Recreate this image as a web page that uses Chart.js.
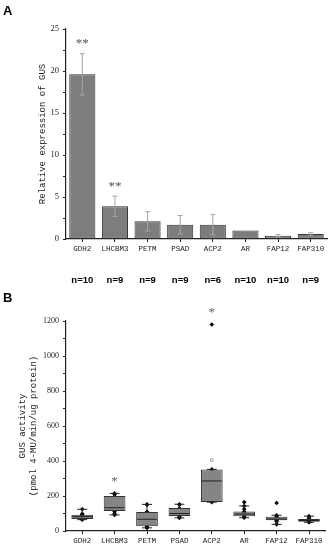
<!DOCTYPE html>
<html>
<head>
<meta charset="utf-8">
<script src="https://cdn.jsdelivr.net/npm/chart.js@4.4.0/dist/chart.umd.min.js"></script>
<style>
  body { margin: 0; background: #fff; }
  #wrap { position: relative; width: 330px; height: 550px; }
  .panel { position: absolute; left: 0; width: 330px; }
  .tag { position: absolute; left: 3px; font: bold 13px "Liberation Sans", Arial, sans-serif; color: #000; }
</style>
</head>
<body>
<div id="wrap">
  <div class="panel" style="top:0;height:290px"><canvas id="graficoA" width="330" height="290"></canvas></div>
  <div class="panel" style="top:290px;height:260px"><canvas id="graficoB" width="330" height="260"></canvas></div>
  <div class="tag" style="top:3px">A</div>
  <div class="tag" style="top:290px">B</div>
</div>
<script>
// Datos
const genes = ['GDH2', 'LHCBM3', 'PETM', 'PSAD', 'ACP2', 'AR', 'FAP12', 'FAP310'];
const nMuestras = [10, 9, 9, 9, 6, 10, 10, 9];

// Panel A: expresión relativa
const expresion = [19.6, 3.9, 2.1, 1.7, 1.7, 1.0, 0.4, 0.6];
const errores = [2.45, 1.2, 1.15, 1.1, 1.2, 0, 0.12, 0.15];
const signifA = ['**', '**', '', '', '', '', '', ''];

// Panel B: actividad GUS (cajas)
const q1 = [69, 114, 27, 86, 166, 84, 61, 53];
const q3 = [93, 200, 109, 131, 352, 112, 82, 69];
const mediana = [82, 133, 67, 100, 286, 97, 68, 60];
const bigoteBajo = [65, 92, 18, 75, 165, 76, 38, 50];
const bigoteAlto = [124, 215, 152, 153, 352, 143, 90, 85];
const medias = [83, 150, 77, 108, 405, 104, 73, 63];
const puntosB = [
  [124, 98, 92, 88, 84, 80, 76, 72, 68, 65],
  [215, 208, 196, 178, 133, 120, 112, 100, 92],
  [152, 150, 110, 105, 67, 45, 25, 20, 18],
  [153, 150, 130, 110, 100, 92, 86, 80, 75],
  [1180, 352, 340, 225, 170, 165],
  [165, 143, 125, 110, 105, 98, 95, 88, 82, 76],
  [160, 90, 85, 78, 72, 68, 65, 60, 55, 38],
  [85, 75, 68, 62, 60, 58, 55, 52, 50]
];
const signifB = ['', '*', '', '', '*', '', '', ''];

const fuenteMono = '"Liberation Mono", "DejaVu Sans Mono", monospace';
const fuenteSerif = '"Liberation Serif", "DejaVu Serif", serif';

// Barras de error, asteriscos y n
const extrasA = {
  id: 'extrasA',
  afterDatasetsDraw(chart) {
    const { ctx, scales: { x, y } } = chart;
    ctx.save();
    ctx.strokeStyle = '#a5a5a5';
    ctx.lineWidth = 1;
    expresion.forEach((v, i) => {
      if (!errores[i]) return;
      const px = x.getPixelForValue(i);
      const arriba = y.getPixelForValue(v + errores[i]);
      const abajo = y.getPixelForValue(v - errores[i]);
      ctx.beginPath();
      ctx.moveTo(px, arriba); ctx.lineTo(px, abajo);
      ctx.moveTo(px - 2.5, arriba); ctx.lineTo(px + 2.5, arriba);
      ctx.moveTo(px - 2.5, abajo); ctx.lineTo(px + 2.5, abajo);
      ctx.stroke();
    });
    ctx.fillStyle = '#555';
    ctx.font = '13px ' + fuenteSerif;
    ctx.textAlign = 'center';
    ctx.textBaseline = 'middle';
    signifA.forEach((s, i) => {
      if (!s) return;
      ctx.fillText(s, x.getPixelForValue(i), y.getPixelForValue(expresion[i] + errores[i]) - 10);
    });
    ctx.fillStyle = '#000';
    ctx.font = 'bold 9.5px "Liberation Sans", Arial, sans-serif';
    nMuestras.forEach((n, i) => ctx.fillText('n=' + n, x.getPixelForValue(i), 280));
    ctx.restore();
  }
};

// Bigotes y medianas
const extrasB = {
  id: 'extrasB',
  afterDatasetDraw(chart, args) {
    if (args.index !== 0) return;
    const { ctx, scales: { x, y } } = chart;
    ctx.save();
    ctx.strokeStyle = '#222';
    ctx.lineWidth = 1;
    genes.forEach((g, i) => {
      const px = x.getPixelForValue(i);
      const half = 10;
      ctx.beginPath();
      ctx.moveTo(px, y.getPixelForValue(q3[i])); ctx.lineTo(px, y.getPixelForValue(bigoteAlto[i]));
      ctx.moveTo(px, y.getPixelForValue(q1[i])); ctx.lineTo(px, y.getPixelForValue(bigoteBajo[i]));
      ctx.moveTo(px - 5, y.getPixelForValue(bigoteAlto[i])); ctx.lineTo(px + 5, y.getPixelForValue(bigoteAlto[i]));
      ctx.moveTo(px - 5, y.getPixelForValue(bigoteBajo[i])); ctx.lineTo(px + 5, y.getPixelForValue(bigoteBajo[i]));
      ctx.moveTo(px - half, y.getPixelForValue(mediana[i])); ctx.lineTo(px + half, y.getPixelForValue(mediana[i]));
      ctx.stroke();
    });
    ctx.restore();
  },
  afterDraw(chart) {
    const { ctx, scales: { x, y } } = chart;
    ctx.save();
    ctx.fillStyle = '#666';
    ctx.font = '13px ' + fuenteSerif;
    ctx.textAlign = 'center';
    ctx.textBaseline = 'middle';
    signifB.forEach((s, i) => {
      if (!s) return;
      const tope = Math.max(bigoteAlto[i], ...puntosB[i]);
      ctx.fillText(s, x.getPixelForValue(i), y.getPixelForValue(tope) - 12);
    });
    ctx.restore();
  }
};

function ejeY(ancho) {
  return s => { s.width = ancho; };
}

// Gráfico A
new Chart(document.getElementById('graficoA').getContext('2d'), {
  type: 'bar',
  data: {
    labels: genes,
    datasets: [{
      data: expresion,
      backgroundColor: '#7d7d7d',
      borderColor: '#333',
      borderWidth: 1,
      borderSkipped: false,
      barPercentage: 0.8,
      categoryPercentage: 1
    }]
  },
  options: {
    responsive: false,
    animation: false,
    layout: { padding: { top: 29, right: 3, left: 0, bottom: 0 } },
    plugins: { legend: { display: false }, tooltip: { enabled: false } },
    scales: {
      x: {
        afterFit: s => { s.height = 51; },
        grid: { display: true, drawOnChartArea: false, offset: false, tickLength: 3, color: '#222' },
        border: { color: '#222', width: 1.2 },
        ticks: { color: '#222', padding: 3, font: { family: fuenteMono, size: 7.5 }, maxRotation: 0, autoSkip: false }
      },
      y: {
        min: 0, max: 25,
        afterFit: ejeY(66),
        grid: { display: true, drawOnChartArea: false, tickLength: 3, color: '#222' },
        border: { color: '#222', width: 1.2 },
        ticks: {
          stepSize: 2.5, autoSkip: false, color: '#222', padding: 4,
          font: { family: fuenteSerif, size: 8.5 },
          callback: v => (v % 5 === 0 ? v : '')
        },
        title: {
          display: true, text: 'Relative expression of GUS', color: '#222',
          font: { family: fuenteMono, size: 9 }, padding: { top: 37, bottom: 0 }
        }
      }
    }
  },
  plugins: [extrasA]
});

// Gráfico B
new Chart(document.getElementById('graficoB').getContext('2d'), {
  type: 'bar',
  data: {
    labels: genes,
    datasets: [{
      data: genes.map((g, i) => [q1[i], q3[i]]),
      backgroundColor: '#858585',
      borderColor: '#333',
      borderWidth: 1,
      borderSkipped: false,
      barPercentage: 0.67,
      categoryPercentage: 1
    }, {
      type: 'line',
      showLine: false,
      data: puntosB.flatMap((arr, i) => arr.map(v => ({ x: genes[i], y: v }))),
      pointStyle: 'rectRot',
      pointRadius: 2.3,
      backgroundColor: '#000',
      borderColor: '#000',
      borderWidth: 0
    }, {
      type: 'line',
      showLine: false,
      data: medias.map((v, i) => ({ x: genes[i], y: v })),
      pointStyle: 'rect',
      pointRadius: 1.8,
      backgroundColor: 'rgba(0,0,0,0)',
      borderColor: '#9a9a9a',
      borderWidth: 0.8
    }]
  },
  options: {
    responsive: false,
    animation: false,
    layout: { padding: { top: 31, right: 3, left: 0, bottom: 0 } },
    plugins: { legend: { display: false }, tooltip: { enabled: false } },
    scales: {
      x: {
        afterFit: s => { s.height = 19; },
        grid: { display: true, drawOnChartArea: false, offset: false, tickLength: 3, color: '#222' },
        border: { color: '#222', width: 1.2 },
        ticks: { color: '#222', padding: 3, font: { family: fuenteMono, size: 7.5 }, maxRotation: 0, autoSkip: false }
      },
      y: {
        min: 0, max: 1200,
        afterFit: ejeY(66),
        grid: { display: true, drawOnChartArea: false, tickLength: 3, color: '#222' },
        border: { color: '#222', width: 1.2 },
        ticks: {
          stepSize: 100, autoSkip: false, color: '#222', padding: 4,
          font: { family: fuenteSerif, size: 8 },
          callback: v => (v % 200 === 0 ? v : '')
        },
        title: {
          display: true, text: ['GUS activity', '(pmol 4-MU/min/ug protein)'], color: '#222',
          font: { family: fuenteMono, size: 9 }, padding: { top: 17, bottom: 0 }
        }
      }
    }
  },
  plugins: [extrasB]
});
</script>
</body>
</html>
